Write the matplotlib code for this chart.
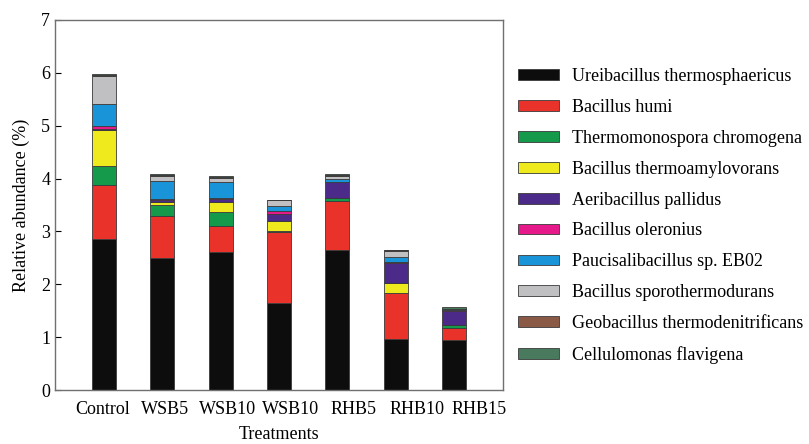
import numpy as np
import matplotlib.pyplot as plt

plt.rcParams['font.family'] = ['Liberation Serif', 'DejaVu Serif']

# treatments and relative abundance (%) of each species, bottom to top
treatments = ["Control", "WSB5", "WSB10", "WSB10", "RHB5", "RHB10", "RHB15"]

species = ["Ureibacillus thermosphaericus", "Bacillus humi",
           "Thermomonospora chromogena", "Bacillus thermoamylovorans",
           "Aeribacillus pallidus", "Bacillus oleronius",
           "Paucisalibacillus sp. EB02", "Bacillus sporothermodurans",
           "Geobacillus thermodenitrificans", "Cellulomonas flavigena"]

ureibacillus = [2.85, 2.49, 2.61, 1.64, 2.65, 0.96, 0.95]
b_humi = [1.03, 0.81, 0.50, 1.35, 0.92, 0.87, 0.23]
thermomonospora = [0.36, 0.20, 0.25, 0.02, 0.06, 0.01, 0.05]
b_thermoamylo = [0.68, 0.06, 0.19, 0.18, 0.00, 0.19, 0.00]
aeribacillus = [0.02, 0.04, 0.07, 0.14, 0.30, 0.38, 0.27]
b_oleronius = [0.05, 0.02, 0.02, 0.06, 0.01, 0.01, 0.02]
paucisalibacillus = [0.42, 0.33, 0.30, 0.09, 0.05, 0.10, 0.01]
b_sporotherm = [0.53, 0.09, 0.08, 0.12, 0.06, 0.11, 0.00]
geobacillus = [0.01, 0.02, 0.01, 0.00, 0.02, 0.01, 0.01]
cellulomonas = [0.02, 0.02, 0.01, 0.00, 0.01, 0.00, 0.03]

series = [ureibacillus, b_humi, thermomonospora, b_thermoamylo, aeribacillus,
          b_oleronius, paucisalibacillus, b_sporotherm, geobacillus, cellulomonas]
colors = ["#0d0d0d", "#e8322a", "#149a4a", "#eeea1e", "#4b2a8a",
          "#e6198a", "#1a94d8", "#c0c0c2", "#8b5a47", "#4a7a5e"]

fig = plt.figure(figsize=(8.09, 4.44), dpi=100)
ax = fig.add_axes([0.068, 0.1216, 0.554, 0.8334])

x = np.arange(len(treatments))
bottom = np.zeros(len(treatments))
for name, vals, c in zip(species, series, colors):
    ax.bar(x, vals, 0.41, bottom=bottom, color=c, edgecolor="#3a3a3a",
           linewidth=0.6, label=name)
    bottom += np.array(vals)

ax.set_xlim(-0.84, 6.84)
ax.set_ylim(0, 7)
ax.set_yticks(range(0, 8))
# the category labels in the original sit a bit wider apart than the bars
ax.set_xticks(-0.03 + 1.077 * x)
ax.set_xticklabels(treatments)
ax.tick_params(axis="y", direction="in", length=4, labelsize=13, width=0.8)
ax.tick_params(axis="x", length=0, labelsize=13, pad=8)
for s in ax.spines.values():
    s.set_color("#707070")
    s.set_linewidth(1.0)

ax.set_ylabel("Relative abundance (%)", fontsize=13, labelpad=8)
ax.set_xlabel("Treatments", fontsize=13, labelpad=6)

fig.legend(loc="upper left", bbox_to_anchor=(0.640, 0.847), frameon=False,
           fontsize=13, handlelength=2.3, handleheight=0.55, handletextpad=0.7,
           labelspacing=0.77, borderpad=0, borderaxespad=0)

fig.savefig("out.png", dpi=100)
